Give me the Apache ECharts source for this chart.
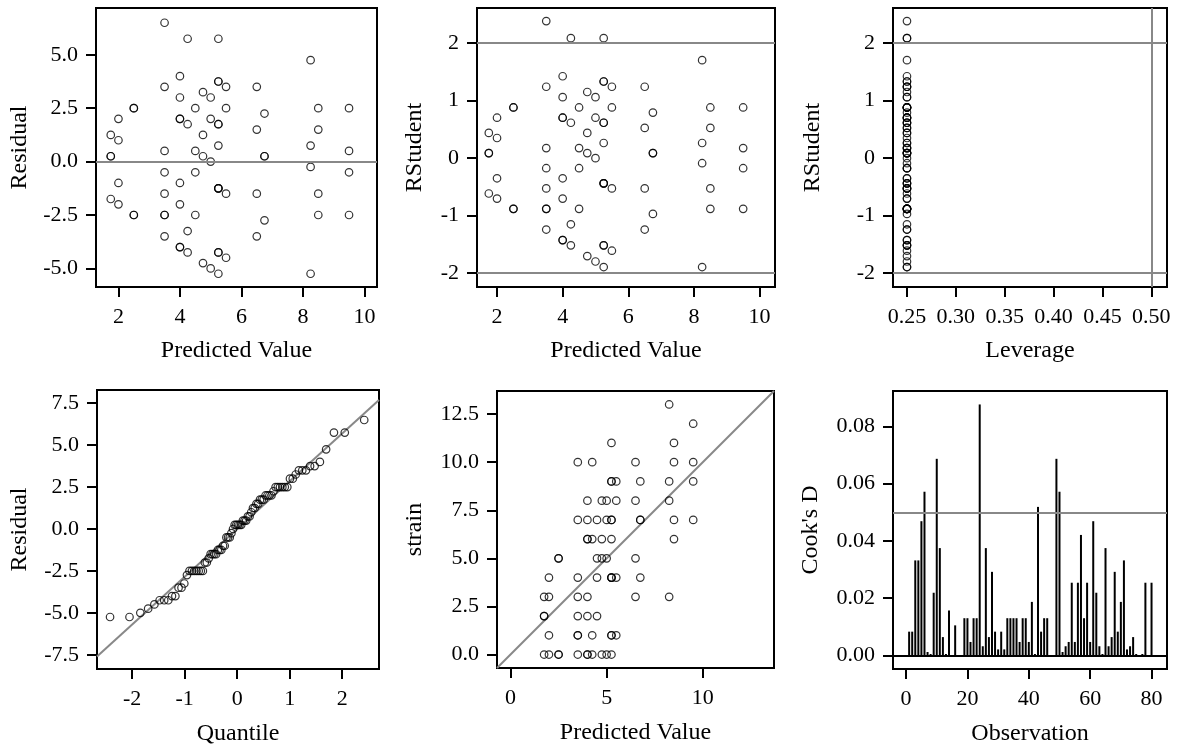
<!DOCTYPE html>
<html>
<head>
<meta charset="utf-8">
<script src="https://cdn.jsdelivr.net/npm/echarts@6/dist/echarts.min.js"></script>
<style>
html, body { margin: 0; padding: 0; background: #fff; }
#chart { width: 1178px; height: 754px; }
</style>
</head>
<body>
<div id="chart"></div>
<script>
// fit diagnostics, 80 observations, grouped by predicted value (4 obs per cell)
const predicted = [
  1.75, 1.75, 1.75, 1.75,  2, 2, 2, 2,  2.5, 2.5, 2.5, 2.5,
  3.5, 3.5, 3.5, 3.5, 3.5, 3.5, 3.5, 3.5,
  4, 4, 4, 4, 4, 4, 4, 4,
  4.25, 4.25, 4.25, 4.25,  4.5, 4.5, 4.5, 4.5,  4.75, 4.75, 4.75, 4.75,  5, 5, 5, 5,
  5.25, 5.25, 5.25, 5.25, 5.25, 5.25, 5.25, 5.25, 5.25, 5.25, 5.25, 5.25,
  5.5, 5.5, 5.5, 5.5,  6.5, 6.5, 6.5, 6.5,  6.75, 6.75, 6.75, 6.75,
  8.25, 8.25, 8.25, 8.25,  8.5, 8.5, 8.5, 8.5,  9.5, 9.5, 9.5, 9.5
];
const residual = [
  1.25, 0.25, 0.25, -1.75,  2, 1, -1, -2,  2.5, 2.5, -2.5, -2.5,
  6.5, 3.5, 0.5, -0.5, -1.5, -2.5, -2.5, -3.5,
  4, 3, 2, 2, -1, -2, -4, -4,
  5.75, 1.75, -3.25, -4.25,  2.5, 0.5, -0.5, -2.5,  3.25, 1.25, 0.25, -4.75,  3, 2, 0, -5,
  5.75, 3.75, 3.75, 1.75, 1.75, 0.75, -1.25, -1.25, -1.25, -4.25, -4.25, -5.25,
  3.5, 2.5, -1.5, -4.5,  3.5, 1.5, -1.5, -3.5,  2.25, 0.25, 0.25, -2.75,
  4.75, 0.75, -0.25, -5.25,  2.5, 1.5, -1.5, -2.5,  2.5, 0.5, -0.5, -2.5
];
const rstudent = [
  0.438, 0.088, 0.088, -0.615,  0.703, 0.350, -0.350, -0.703,  0.881, 0.881, -0.881, -0.881,
  2.382, 1.241, 0.175, -0.175, -0.526, -0.881, -0.881, -1.241,
  1.424, 1.060, 0.703, 0.703, -0.350, -0.703, -1.424, -1.424,
  2.086, 0.615, -1.150, -1.516,  0.881, 0.175, -0.175, -0.881,  1.150, 0.438, 0.088, -1.703,
  1.060, 0.703, 0, -1.797,
  2.086, 1.332, 1.332, 0.615, 0.615, 0.263, -0.438, -0.438, -0.438, -1.516, -1.516, -1.893,
  1.241, 0.881, -0.526, -1.609,  1.241, 0.526, -0.526, -1.241,  0.792, 0.088, 0.088, -0.970,
  1.703, 0.263, -0.088, -1.893,  0.881, 0.526, -0.526, -0.881,  0.881, 0.175, -0.175, -0.881
];
const strain = [
  3, 2, 2, 0,  4, 3, 1, 0,  5, 5, 0, 0,
  10, 7, 4, 3, 2, 1, 1, 0,
  8, 7, 6, 6, 3, 2, 0, 0,
  10, 6, 1, 0,  7, 5, 4, 2,  8, 6, 5, 0,  8, 7, 5, 0,
  11, 9, 9, 7, 7, 6, 4, 4, 4, 1, 1, 0,
  9, 8, 4, 1,  10, 8, 5, 3,  9, 7, 7, 4,
  13, 9, 8, 3,  11, 10, 7, 6,  12, 10, 9, 7
];
const leverage = 0.25;   // every observation has the same leverage
// Cook's D in observation order 1..80
const cooksD = [
  0.0083, 0.0083, 0.0332, 0.0332, 0.0469, 0.0572, 0.0012, 0.0005, 0.0219, 0.0687,
  0.0375, 0.0064, 0.0005, 0.0157, 0.0001, 0.0105, 0.0000, 0.0001, 0.0130, 0.0130,
  0.0047, 0.0130, 0.0130, 0.0877, 0.0032, 0.0375, 0.0064, 0.0292, 0.0083, 0.0021,
  0.0083, 0.0021, 0.0130, 0.0130, 0.0130, 0.0130, 0.0047, 0.0130, 0.0130, 0.0047,
  0.0187, 0.0005, 0.0519, 0.0083, 0.0130, 0.0130, 0.0001, 0.0001, 0.0687, 0.0572,
  0.0012, 0.0032, 0.0047, 0.0254, 0.0047, 0.0254, 0.0421, 0.0130, 0.0254, 0.0047,
  0.0469, 0.0219, 0.0032, 0.0005, 0.0375, 0.0032, 0.0064, 0.0292, 0.0083, 0.0187,
  0.0332, 0.0021, 0.0032, 0.0064, 0.0005, 0.0001, 0.0005, 0.0254, 0.0001, 0.0254
];
const qqSlope = 2.85;        // residual std dev, slope of the normal reference line
const rstudentLimit = 2;
const leverageCutoff = 0.5;
const cooksCutoff = 0.05;

// tick labels
const ticksPred = [2, 4, 6, 8, 10];
const ticksResid = [-5, -2.5, 0, 2.5, 5];
const ticksRStud = [-2, -1, 0, 1, 2];
const ticksLev = [0.25, 0.30, 0.35, 0.40, 0.45, 0.50];
const ticksQuant = [-2, -1, 0, 1, 2];
const ticksQQResid = [-7.5, -5, -2.5, 0, 2.5, 5, 7.5];
const ticksFitX = [0, 5, 10];
const ticksStrain = [0, 2.5, 5, 7.5, 10, 12.5];
const ticksObs = [0, 20, 40, 60, 80];
const ticksCook = [0, 0.02, 0.04, 0.06, 0.08];

// inverse normal cdf (Acklam)
function qnorm(p) {
  const a = [-39.69683028665376, 220.9460984245205, -275.9285104469687, 138.3577518672690, -30.66479806614716, 2.506628277459239];
  const b = [-54.47609879822406, 161.5858368580409, -155.6989798598866, 66.80131188771972, -13.28068155288572];
  const c = [-0.007784894002430293, -0.3223964580411365, -2.400758277161838, -2.549732539343734, 4.374664141464968, 2.938163982698783];
  const d = [0.007784695709041462, 0.3224671290700398, 2.445134137142996, 3.754408661907416];
  const plow = 0.02425;
  let q, r;
  if (p < plow) {
    q = Math.sqrt(-2 * Math.log(p));
    return (((((c[0]*q+c[1])*q+c[2])*q+c[3])*q+c[4])*q+c[5]) / ((((d[0]*q+d[1])*q+d[2])*q+d[3])*q+1);
  }
  if (p > 1 - plow) {
    q = Math.sqrt(-2 * Math.log(1 - p));
    return -(((((c[0]*q+c[1])*q+c[2])*q+c[3])*q+c[4])*q+c[5]) / ((((d[0]*q+d[1])*q+d[2])*q+d[3])*q+1);
  }
  q = p - 0.5; r = q * q;
  return (((((a[0]*r+a[1])*r+a[2])*r+a[3])*r+a[4])*r+a[5])*q / (((((b[0]*r+b[1])*r+b[2])*r+b[3])*r+b[4])*r+1);
}

const FONT = '"Liberation Serif", "Times New Roman", serif';
const INK = '#000';
const REF = '#888';

const n = residual.length;
const sortedResid = residual.slice().sort((a, b) => a - b);
const qqData = sortedResid.map((v, i) => [qnorm((i + 1 - 0.375) / (n + 0.25)), v]);

const grids = [
  { left: 96,  top: 8,   width: 281, height: 279 },
  { left: 477, top: 8,   width: 298, height: 279 },
  { left: 893, top: 8,   width: 274, height: 279 },
  { left: 97,  top: 390, width: 282, height: 279 },
  { left: 497, top: 391, width: 277, height: 277 },
  { left: 893, top: 391, width: 274, height: 278 }
].map(g => Object.assign({ show: true, borderColor: '#000', borderWidth: 2, backgroundColor: '#fff', outerBoundsMode: 'none', containLabel: false }, g));

function fmt(v, dec) {
  return dec > 0 ? Number(v).toFixed(dec) : String(v);
}

function axis(gi, min, max, ticks, dec, name, gap, isX) {
  return {
    type: 'value', gridIndex: gi, min: min, max: max, scale: true,
    position: isX ? 'bottom' : 'left',
    name: name, nameLocation: 'middle', nameGap: gap,
    nameTextStyle: { fontFamily: FONT, fontSize: 24, color: INK },
    axisLine: { show: false, onZero: false },
    splitLine: { show: false },
    axisTick: { show: true, inside: false, length: 10, customValues: ticks, lineStyle: { color: '#000', width: 2 } },
    axisLabel: {
      show: true, customValues: ticks, margin: isX ? 19 : 18,
      fontFamily: FONT, fontSize: 22, color: INK,
      formatter: v => fmt(v, dec)
    }
  };
}

const xAxes = [
  axis(0, 1.27, 10.41, ticksPred, 0, 'Predicted Value', 52, true),
  axis(1, 1.39, 10.47, ticksPred, 0, 'Predicted Value', 52, true),
  axis(2, 0.2357, 0.516, ticksLev, 2, 'Leverage', 52, true),
  axis(3, -2.667, 2.70, ticksQuant, 0, 'Quantile', 53, true),
  axis(4, -0.7, 13.7, ticksFitX, 0, 'Predicted Value', 53, true),
  axis(5, -4.26, 85.04, ticksObs, 0, 'Observation', 53, true)
];
const yAxes = [
  axis(0, -5.87, 7.19, ticksResid, 1, 'Residual', 64, false),
  axis(1, -2.24, 2.61, ticksRStud, 0, 'RStudent', 50, false),
  axis(2, -2.24, 2.61, ticksRStud, 0, 'RStudent', 68, false),
  axis(3, -8.35, 8.29, ticksQQResid, 1, 'Residual', 65, false),
  axis(4, -0.7, 13.7, ticksStrain, 1, 'strain', 70, false),
  axis(5, -0.00475, 0.0924, ticksCook, 2, "Cook's D", 70, false)
];

const pointStyle = {
  type: 'scatter', symbol: 'circle', symbolSize: 7.5, silent: true,
  itemStyle: { color: 'rgba(0,0,0,0)', borderColor: '#000', borderWidth: 1.2 }
};
function refLines(list, color) {
  return {
    silent: true, symbol: 'none', animation: false,
    label: { show: false },
    lineStyle: { color: color || REF, width: 2, type: 'solid' },
    data: list
  };
}
function pts(gi, data, marks) {
  return Object.assign({}, pointStyle, { xAxisIndex: gi, yAxisIndex: gi, data: data, markLine: marks, z: 3 });
}

const ax4 = xAxes[3], ax5 = xAxes[4];

const series = [
  pts(0, predicted.map((p, i) => [p, residual[i]]), refLines([{ yAxis: 0 }])),
  pts(1, predicted.map((p, i) => [p, rstudent[i]]), refLines([{ yAxis: rstudentLimit }, { yAxis: -rstudentLimit }])),
  pts(2, rstudent.map(r => [leverage, r]), refLines([{ yAxis: rstudentLimit }, { yAxis: -rstudentLimit }, { xAxis: leverageCutoff }])),
  {
    type: 'line', xAxisIndex: 3, yAxisIndex: 3, silent: true, showSymbol: false, clip: true, z: 2,
    lineStyle: { color: REF, width: 2 },
    data: [[ax4.min, qqSlope * ax4.min], [ax4.max, qqSlope * ax4.max]]
  },
  pts(3, qqData),
  {
    type: 'line', xAxisIndex: 4, yAxisIndex: 4, silent: true, showSymbol: false, clip: true, z: 2,
    lineStyle: { color: REF, width: 2 },
    data: [[ax5.min, ax5.min], [ax5.max, ax5.max]]
  },
  pts(4, predicted.map((p, i) => [p, strain[i]])),
  {
    type: 'bar', xAxisIndex: 5, yAxisIndex: 5, silent: true, barWidth: 2,
    itemStyle: { color: '#000' },
    data: cooksD.map((v, i) => [i + 1, v]),
    markLine: {
      silent: true, symbol: 'none', label: { show: false },
      data: [
        { yAxis: cooksCutoff, lineStyle: { color: REF, width: 2, type: 'solid' } },
        { yAxis: 0, lineStyle: { color: '#000', width: 2, type: 'solid' } }
      ]
    }
  }
];

const chart = echarts.init(document.getElementById('chart'), null, { renderer: 'canvas' });
chart.setOption({
  animation: false,
  backgroundColor: '#fff',
  textStyle: { fontFamily: FONT },
  grid: grids,
  xAxis: xAxes,
  yAxis: yAxes,
  series: series
});
</script>
</body>
</html>
